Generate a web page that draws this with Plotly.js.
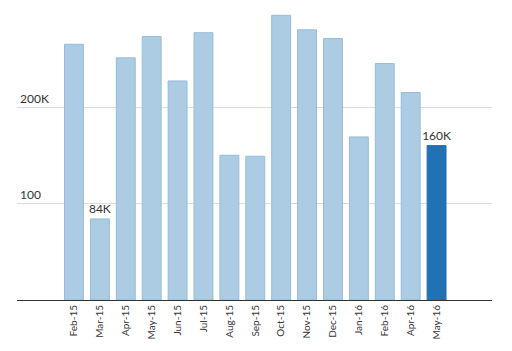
<!DOCTYPE html>
<html>
<head>
<meta charset="utf-8">
<script src="https://cdn.plot.ly/plotly-3.0.1.min.js"></script>
<style>html,body{margin:0;padding:0;background:#fff;}#chart{width:512px;height:351px;}</style>
</head>
<body>
<div id="chart"></div>
<script>
const months = ["Feb-15","Mar-15","Apr-15","May-15","Jun-15","Jul-15","Aug-15","Sep-15","Oct-15","Nov-15","Dec-15","Jan-16","Feb-16","Apr-16","May-16"];
const values = [265, 84, 251, 273, 227, 277, 150, 149, 295, 280, 271, 169, 245, 215, 160];
const barLabels = ["", "84K", "", "", "", "", "", "", "", "", "", "", "", "", "160K"];
const highlighted = ["May-16"];
const tickVals = [100, 200];
const tickText = ["100", "200K"];

const colors = months.map(m => highlighted.includes(m) ? "rgb(33,113,181)" : "rgb(172,204,228)");
const lineColors = months.map(m => highlighted.includes(m) ? "rgb(33,113,181)" : "rgb(150,188,215)");

const trace = {
  type: "bar",
  x: months,
  y: values,
  text: barLabels,
  textposition: "outside",
  constraintext: "none",
  cliponaxis: false,
  textfont: {family: "Lato, 'Open Sans', sans-serif", size: 12, color: "#333"},
  marker: {color: colors, line: {color: lineColors, width: 1}},
  hoverinfo: "none"
};

const layout = {
  width: 512,
  height: 351,
  margin: {l: 17, r: 20, t: 0, b: 51},
  paper_bgcolor: "#fff",
  plot_bgcolor: "#fff",
  showlegend: false,
  bargap: 0.27,
  font: {family: "Lato, 'Open Sans', sans-serif", color: "#333"},
  xaxis: {
    type: "category",
    range: [-2.2, 16.14],
    tickangle: -90,
    tickfont: {size: 10, color: "#333"},
    showline: true,
    linecolor: "#333",
    linewidth: 1,
    showgrid: false,
    ticks: "",
    fixedrange: true
  },
  yaxis: {
    range: [0, 310.9],
    tickvals: tickVals,
    ticktext: tickText,
    ticklabelposition: "inside top",
    tickfont: {size: 12, color: "#333"},
    showgrid: true,
    gridcolor: "#dcdcdc",
    gridwidth: 1,
    zeroline: false,
    showline: false,
    ticks: "",
    fixedrange: true
  }
};

Plotly.newPlot("chart", [trace], layout, {displayModeBar: false, staticPlot: true});
</script>
</body>
</html>
